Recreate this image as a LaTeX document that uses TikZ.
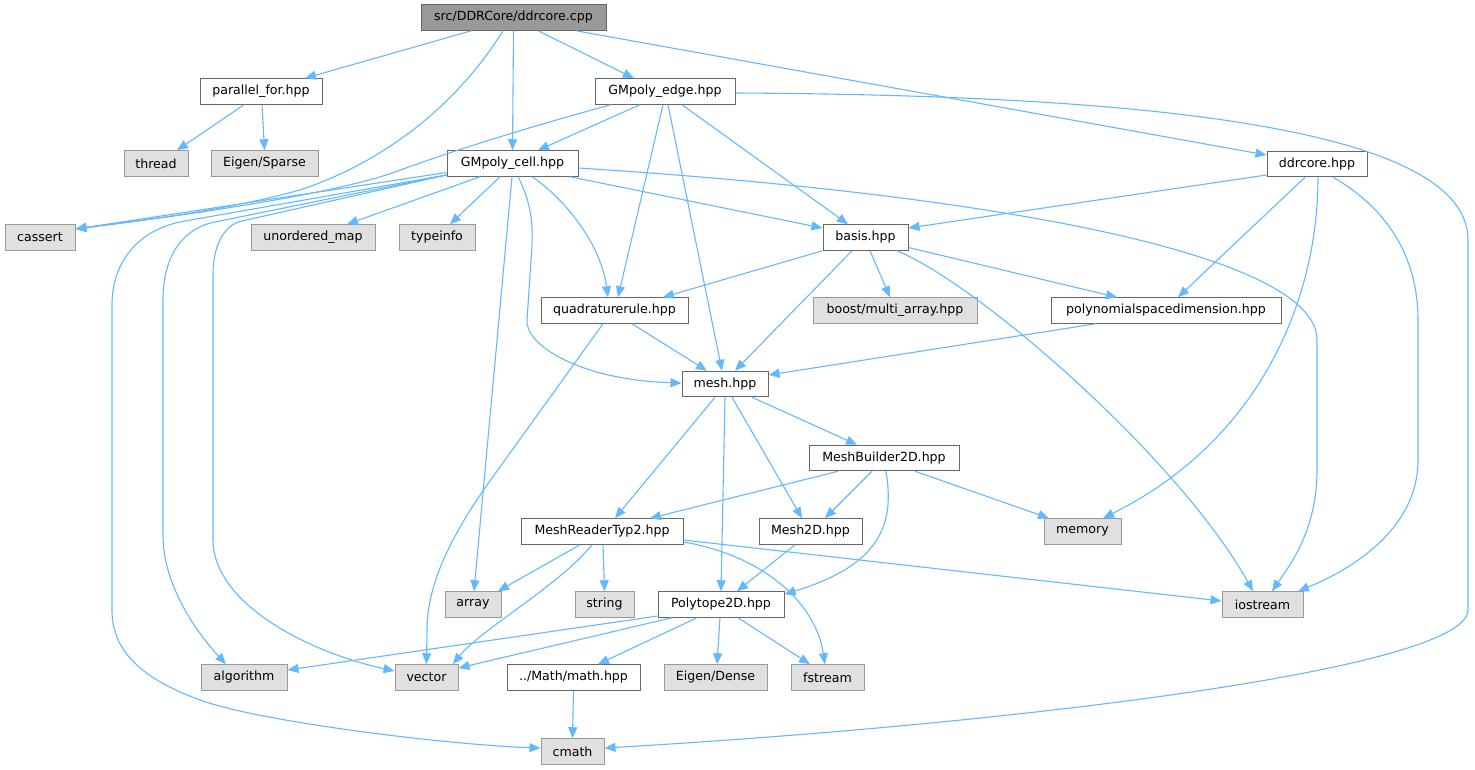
\documentclass[tikz,border=0pt]{standalone}
\usepackage{fontspec}
\setmainfont{DejaVu Sans}
\usetikzlibrary{arrows.meta}
\definecolor{edgeblue}{HTML}{63B8FF}
\definecolor{bordgray}{HTML}{666666}
\definecolor{extborder}{HTML}{999999}
\definecolor{extfill}{HTML}{E0E0E0}
\definecolor{mainfill}{HTML}{999999}
\tikzset{
  box/.style={draw=bordgray, fill=white, line width=1pt, minimum height=25.5pt, inner sep=1pt, font=\fontsize{12.6}{15}\selectfont},
  ext/.style={box, draw=extborder, fill=extfill},
  mainnode/.style={box, fill=mainfill, draw=bordgray},
  dep/.style={draw=edgeblue, line width=1.1pt, -{Triangle[length=11pt,width=9pt]}}
}
\begin{document}
\begin{tikzpicture}[x=1pt,y=-1pt]
\useasboundingbox (0,0) rectangle (1475,769);
% nodes
\node[mainnode, minimum width=185pt] (cpp) at (513.5,17.5) {src/DDRCore/ddrcore.cpp};
\node[box, minimum width=122pt] (pf) at (261,91.5) {parallel\_for.hpp};
\node[box, minimum width=140pt] (gedge) at (665,91.5) {GMpoly\_edge.hpp};
\node[ext, minimum width=64pt] (thread) at (156,163.5) {thread};
\node[ext, minimum width=107pt] (sparse) at (264.5,163.5) {Eigen/Sparse};
\node[box, minimum width=131pt] (cell) at (512.5,163.5) {GMpoly\_cell.hpp};
\node[box, minimum width=100pt] (dhpp) at (1317,164) {ddrcore.hpp};
\node[ext, minimum width=70pt] (cassert) at (40,237.5) {cassert};
\node[ext, minimum width=124pt] (umap) at (313,237.5) {unordered\_map};
\node[ext, minimum width=76pt] (typeinfo) at (437,237.5) {typeinfo};
\node[box, minimum width=85pt] (basis) at (865.5,237.5) {basis.hpp};
\node[box, minimum width=147pt] (quad) at (614.5,310.5) {quadraturerule.hpp};
\node[ext, minimum width=164pt] (boost) at (895,310.5) {boost/multi\_array.hpp};
\node[box, minimum width=230pt] (poly) at (1166,310.5) {polynomialspacedimension.hpp};
\node[box, minimum width=86pt] (mesh) at (725,384) {mesh.hpp};
\node[box, minimum width=150pt] (mb) at (884,458) {MeshBuilder2D.hpp};
\node[box, minimum width=162pt] (mr) at (602,531.5) {MeshReaderTyp2.hpp};
\node[box, minimum width=103pt] (m2d) at (810.5,531.5) {Mesh2D.hpp};
\node[ext, minimum width=77pt] (memory) at (1082.5,531.5) {memory};
\node[ext, minimum width=56pt] (array) at (473,604.5) {array};
\node[ext, minimum width=59pt] (string) at (604.5,604.5) {string};
\node[box, minimum width=126pt] (p2d) at (721,604.5) {Polytope2D.hpp};
\node[ext, minimum width=81pt] (iostream) at (1262.5,604.5) {iostream};
\node[ext, minimum width=86pt] (algorithm) at (244,677.5) {algorithm};
\node[ext, minimum width=63pt] (vector) at (426.5,677.5) {vector};
\node[box, minimum width=133pt] (math) at (573.5,677.5) {../Math/math.hpp};
\node[ext, minimum width=103pt] (dense) at (715.5,677.5) {Eigen/Dense};
\node[ext, minimum width=73pt] (fstream) at (827.5,677.5) {fstream};
\node[ext, minimum width=63pt] (cmath) at (572.5,751.5) {cmath};
% edges from ddrcore.cpp
\draw[dep] ([xshift=-42]cpp.south) -- ([xshift=44]pf.north);
\draw[dep] ([xshift=-10.5]cpp.south) .. controls (460,100) and (390,160) .. (300,190) .. controls (220,212) and (140,220) .. ([yshift=8.5]cassert.east);
\draw[dep] (cpp.south) -- (cell.north);
\draw[dep] ([xshift=24.5]cpp.south) -- ([xshift=-31]gedge.north);
\draw[dep] ([xshift=62.5]cpp.south) -- ([yshift=9]dhpp.west);
% parallel_for
\draw[dep] ([xshift=-17]pf.south) -- ([xshift=21]thread.north);
\draw[dep] ([xshift=1]pf.south) -- (sparse.north);
% GMpoly_edge
\draw[dep] ([xshift=-54]gedge.south) .. controls (540,124) and (460,148) .. (395,172) .. controls (330,195) and (180,216) .. ([yshift=8.5]cassert.east);
\draw[dep] ([xshift=-25]gedge.south) -- ([xshift=25.5]cell.north);
\draw[dep] ([xshift=-2]gedge.south) -- ([xshift=3.5]quad.north);
\draw[dep] ([xshift=3]gedge.south) -- ([xshift=-3]mesh.north);
\draw[dep] ([xshift=17]gedge.south) -- ([xshift=-17.5]basis.north);
\draw[dep] ([yshift=-1.5]gedge.east) .. controls (1100,95) and (1468,120) .. (1468,240) -- (1468,610) .. controls (1468,670) and (1000,725) .. ([yshift=3.5]cmath.east);
% GMpoly_cell
\draw[dep] ([yshift=-9]cell.west) -- ([yshift=8.5]cassert.east);
\draw[dep] ([yshift=-11.5]cell.west) -- (185,221) .. controls (140,228.7) and (112,260) .. (112,305) -- (112,610) .. controls (112,650) and (140,678) .. (200,700) .. controls (260,722) and (450,745) .. ([yshift=3.5]cmath.west);
\draw[dep] ([yshift=-11.5]cell.west) -- (215,222) .. controls (178,229.5) and (163,262) .. (163,300) -- (163,535) .. controls (163,580) and (190,625) .. ([xshift=-18]algorithm.north);
\draw[dep] ([yshift=-11.5]cell.west) -- (242,221) .. controls (224,225) and (213,245) .. (213,275) -- (213,540) .. controls (213,600) and (300,650) .. ([yshift=6.5]vector.west);
\draw[dep] ([xshift=-32.5]cell.south) -- ([xshift=34]umap.north);
\draw[dep] ([xshift=-12.5]cell.south) -- ([xshift=13]typeinfo.north);
\draw[dep] ([xshift=-0.5]cell.south) -- ([xshift=1]array.north);
\draw[dep] ([xshift=5.5]cell.south) .. controls (530,200) and (533,220) .. (532,245) -- (527,320) .. controls (525,345) and (580,380) .. ([yshift=1]mesh.west);
\draw[dep] ([xshift=19.5]cell.south) .. controls (560,195) and (600,240) .. ([xshift=-6.5]quad.north);
\draw[dep] ([xshift=57.5]cell.south) -- ([yshift=9.5]basis.west);
\draw[dep] ([yshift=-4.5]cell.east) .. controls (1000,195) and (1317,255) .. (1317,340) -- (1317,470) .. controls (1317,530) and (1290,565) .. ([xshift=9.5]iostream.north);
% ddrcore.hpp
\draw[dep] ([yshift=-11]dhpp.west) -- ([yshift=9.5]basis.east);
\draw[dep] ([xshift=-12]dhpp.south) -- ([xshift=12]poly.north);
\draw[dep] ([xshift=1]dhpp.south) .. controls (1318,300) and (1260,440) .. ([xshift=20.5]memory.north);
\draw[dep] ([xshift=16]dhpp.south) .. controls (1390,210) and (1418,260) .. (1418,320) -- (1418,460) .. controls (1418,530) and (1350,570) .. ([xshift=35.5]iostream.north);
% basis
\draw[dep] (basis.south west) -- ([xshift=48.5]quad.north);
\draw[dep] ([xshift=-13.5]basis.south) -- ([xshift=10]mesh.north);
\draw[dep] ([xshift=4.5]basis.south) -- ([xshift=-5]boost.north);
\draw[dep] ([yshift=-10]basis.east) -- ([xshift=-49]poly.north);
\draw[dep] ([xshift=31.5]basis.south) .. controls (980,285) and (1180,460) .. ([xshift=-9.5]iostream.north);
% quadraturerule
\draw[dep] ([xshift=17.5]quad.south) -- ([xshift=-18]mesh.north);
\draw[dep] ([xshift=-11.5]quad.south) -- (487,485) .. controls (445,545) and (427,590) .. (427,630) -- (vector.north);
% polynomialspacedimension
\draw[dep] ([xshift=-70]poly.south) -- ([yshift=9]mesh.east);
% mesh
\draw[dep] ([xshift=-10]mesh.south) -- ([xshift=13]mr.north);
\draw[dep] (mesh.south) -- (p2d.north);
\draw[dep] ([xshift=7]mesh.south) -- ([xshift=-8.5]m2d.north);
\draw[dep] ([xshift=27]mesh.south) -- ([xshift=-27]mb.north);
% MeshBuilder2D
\draw[dep] ([xshift=-46]mb.south) -- ([xshift=48]mr.north);
\draw[dep] ([xshift=-12]mb.south) -- ([xshift=14.5]m2d.north);
\draw[dep] ([xshift=2]mb.south) .. controls (895,525) and (880,565) .. ([yshift=-3]p2d.north east);
\draw[dep] ([xshift=31]mb.south) -- ([xshift=-33.5]memory.north);
% MeshReaderTyp2
\draw[dep] ([xshift=-22]mr.south) -- ([xshift=25]array.north);
\draw[dep] ([xshift=1]mr.south) -- (string.north);
\draw[dep] ([xshift=-10]mr.south) .. controls (560,585) and (480,630) .. ([xshift=26.5]vector.north);
\draw[dep] ([yshift=-8.5]mr.east) -- ([yshift=3.5]iostream.west);
\draw[dep] ([yshift=-10.5]mr.east) .. controls (760,555) and (815,600) .. ([xshift=-2.5]fstream.north);
% Mesh2D
\draw[dep] ([xshift=-15.5]m2d.south) -- ([xshift=16]p2d.north);
% Polytope2D
\draw[dep] ([yshift=-11.5]p2d.west) -- ([yshift=7.5]algorithm.east);
\draw[dep] ([xshift=-49]p2d.south) -- ([yshift=9.5]vector.east);
\draw[dep] ([xshift=-24]p2d.south) -- ([xshift=24.5]math.north);
\draw[dep] ([xshift=-1]p2d.south) -- ([xshift=1.5]dense.north);
\draw[dep] ([xshift=17]p2d.south) -- ([xshift=-17.5]fstream.north);
% math
\draw[dep] (math.south) -- (cmath.north);
\end{tikzpicture}
\end{document}
